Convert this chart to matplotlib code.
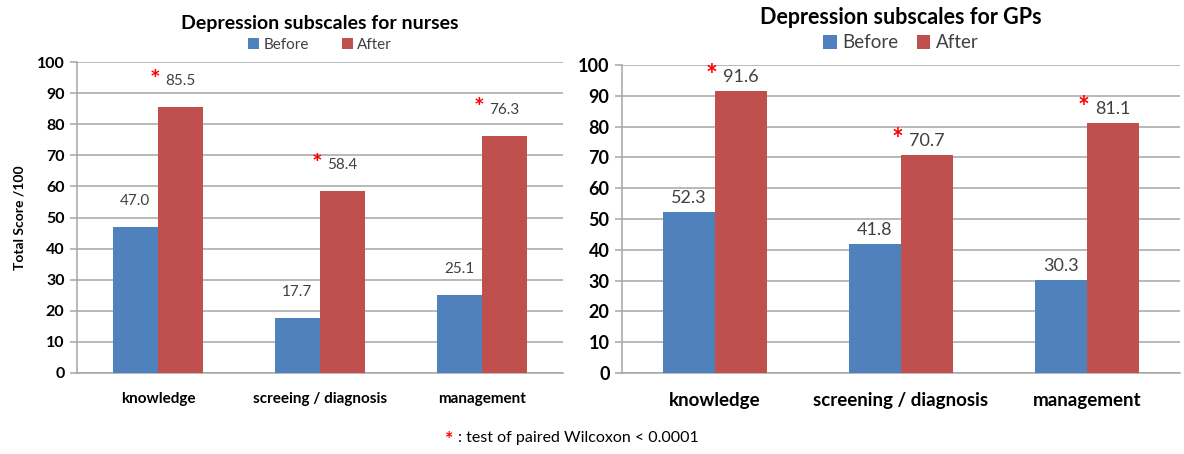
import matplotlib
matplotlib.use("Agg")
import matplotlib.pyplot as plt
import numpy as np

plt.rcParams['font.family'] = ['Lato', 'DejaVu Sans']

categories_nurses = ["knowledge", "screeing / diagnosis", "management"]
before_nurses = [47.0, 17.7, 25.1]
after_nurses = [85.5, 58.4, 76.3]

categories_gps = ["knowledge", "screening / diagnosis", "management"]
before_gps = [52.3, 41.8, 30.3]
after_gps = [91.6, 70.7, 81.1]

series_labels = ["Before", "After"]
yticks = [0, 10, 20, 30, 40, 50, 60, 70, 80, 90, 100]

BLUE = "#4F81BD"
RED = "#C0504D"
GRID = "#A6A6A6"
TXT = "#404040"

W, H = 1184, 454
fig = plt.figure(figsize=(W / 100, H / 100), dpi=100)


def px_axes(l, t, r, b):
    return fig.add_axes([l / W, 1 - b / H, (r - l) / W, (b - t) / H])


def panel(ax, cats, before, after, title, fs_tick, fs_cat, fs_val, fs_title,
          fs_leg, label_off, star_dx, title_y, leg_y, colsp, ylabel=None):
    x = np.arange(len(cats))
    w = 0.28
    ax.bar(x - w / 2, before, w, color=BLUE, label=series_labels[0], zorder=3)
    ax.bar(x + w / 2, after, w, color=RED, label=series_labels[1], zorder=3)
    ax.set_xlim(-0.5, len(cats) - 0.5)
    ax.set_ylim(0, 100)
    ax.set_yticks(yticks)
    ax.yaxis.grid(True, color=GRID, linewidth=1.1, zorder=0)
    ax.set_axisbelow(True)
    for s in ["top", "right"]:
        ax.spines[s].set_visible(False)
    ax.spines["left"].set_color(GRID)
    ax.spines["bottom"].set_color(GRID)
    ax.spines["left"].set_linewidth(1.1)
    ax.spines["bottom"].set_linewidth(1.1)
    ax.tick_params(axis="y", length=5, color=GRID, width=1.1, pad=4,
                   labelsize=fs_tick, labelcolor="black")
    ax.tick_params(axis="x", length=0, pad=14, labelsize=fs_cat)
    ax.set_xticks(x)
    ax.set_xticklabels(cats, fontweight="bold")
    for lab in ax.get_yticklabels():
        lab.set_fontweight("bold")
    for i in range(len(cats)):
        ax.annotate(f"{before[i]:.1f}", (x[i] - w / 2, before[i]),
                    xytext=(0, label_off), textcoords="offset pixels",
                    ha="center", va="center", fontsize=fs_val, color=TXT)
        ax.annotate(f"{after[i]:.1f}", (x[i] + w / 2, after[i]),
                    xytext=(0, label_off), textcoords="offset pixels",
                    ha="center", va="center", fontsize=fs_val, color=TXT)
        ax.annotate("*", (x[i] + w / 2, after[i]),
                    xytext=(star_dx, label_off + 1), textcoords="offset pixels",
                    ha="center", va="center", fontsize=fs_val + 7,
                    color="#FF0000", fontweight="bold")
    bb = ax.get_position()
    cx = (bb.x0 + bb.x1) / 2
    fig.text(cx, 1 - title_y / H, title, ha="center", va="center",
             fontsize=fs_title, fontweight="bold", color="black")
    ax.legend(loc="center", bbox_to_anchor=(cx, 1 - leg_y / H),
              bbox_transform=fig.transFigure, ncol=2, frameon=False,
              fontsize=fs_leg, handlelength=0.7, handleheight=0.7,
              handletextpad=0.3, columnspacing=colsp,
              labelcolor=TXT)
    if ylabel:
        ax.set_ylabel(ylabel, fontsize=10, fontweight="bold", labelpad=8)


ax1 = px_axes(77, 62, 563, 373)
panel(ax1, categories_nurses, before_nurses, after_nurses,
      "Depression subscales for nurses", fs_tick=11.5, fs_cat=11, fs_val=11,
      fs_title=14, fs_leg=11, label_off=26, star_dx=-26, title_y=24,
      leg_y=45, colsp=2.2, ylabel="Total Score /100")

ax2 = px_axes(622, 65, 1180, 373)
panel(ax2, categories_gps, before_gps, after_gps,
      "Depression subscales for GPs", fs_tick=13, fs_cat=13.5, fs_val=13,
      fs_title=15.5, fs_leg=13.5, label_off=14, star_dx=-30, title_y=18,
      leg_y=43, colsp=1.0)

fig.text(0.379, 1 - 440 / H, "*", color="#FF0000", fontsize=14,
         fontweight="bold", ha="center", va="center")
fig.text(0.387, 1 - 438 / H, ": test of paired Wilcoxon < 0.0001",
         color="black", fontsize=11.5, ha="left", va="center")

fig.savefig("out.png", dpi=100, facecolor="white")
